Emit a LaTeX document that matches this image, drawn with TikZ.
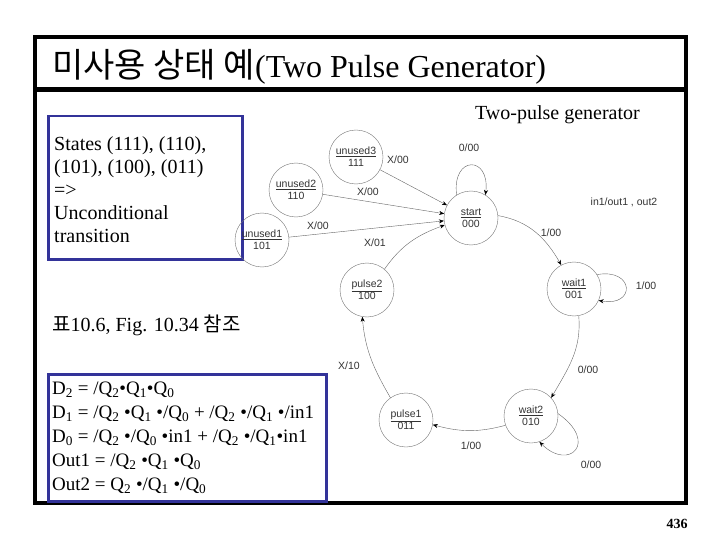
\documentclass[tikz,border=0pt]{standalone}
\usepackage{fontspec}
\setmainfont{Liberation Serif}
\setsansfont{Liberation Sans}
\newfontfamily\kr{Noto Sans CJK KR}
\usetikzlibrary{positioning,arrows.meta}
\definecolor{boxblue}{RGB}{51,51,153}

\begin{document}
\begin{tikzpicture}[x=1pt,y=-1pt,
  state/.style={circle,draw=black!55,minimum size=54pt,inner sep=0pt,align=center,
    font=\sffamily\fontsize{10.5}{12}\selectfont,text=black!80},
  tr/.style={draw=black!60,-{Stealth[length=5pt,width=4pt,color=black]}},
  lbl/.style={font=\sffamily\fontsize{10.5}{11}\selectfont,text=black!80},
  bluebox/.style={draw=boxblue,line width=2.5pt}]
\useasboundingbox (0,0) rectangle (720,540);

% frame and title
\draw[line width=4pt] (35,37) rectangle (686,503);
\draw[line width=5pt] (35,90) -- (686,90);
\node[anchor=base west,inner sep=0pt,font=\fontsize{32}{34}\selectfont] (title) at (52,78)
  {{\kr\fontsize{34}{36}\selectfont 미사용 상태 예}(Two Pulse Generator)};
\node[anchor=base east,inner sep=0pt,font=\fontsize{20}{22}\selectfont] (caption) at (640,120) {Two-pulse generator};

% notes
\node[bluebox,minimum width=194pt,minimum height=143pt,anchor=north west] (states) at (47,115) {};
\node[anchor=north west,inner sep=0pt,align=left,font=\fontsize{20}{23}\selectfont] (statestxt) at (54,136)
  {States (111), (110),\\(101), (100), (011)\\=>\\Unconditional\\transition};
\node[anchor=base west,inner sep=0pt,font=\fontsize{20}{22}\selectfont] (ref) at (52,331)
  {{\kr 표}10.6, Fig. 10.34 {\kr 참조}};
\node[bluebox,minimum width=278pt,minimum height=127pt,anchor=north west] (eqs) at (47,373) {};
\node[anchor=north west,inner sep=0pt,align=left,font=\fontsize{19}{24}\selectfont] (eqstxt) at (52,382)
  {D\textsubscript{2} = /Q\textsubscript{2}•Q\textsubscript{1}•Q\textsubscript{0}\\
   D\textsubscript{1} = /Q\textsubscript{2} •Q\textsubscript{1} •/Q\textsubscript{0} + /Q\textsubscript{2} •/Q\textsubscript{1} •/in1\\
   D\textsubscript{0} = /Q\textsubscript{2} •/Q\textsubscript{0} •in1 + /Q\textsubscript{2} •/Q\textsubscript{1}•in1\\
   Out1 = /Q\textsubscript{2} •Q\textsubscript{1} •Q\textsubscript{0}\\
   Out2 = Q\textsubscript{2} •/Q\textsubscript{1} •/Q\textsubscript{0}};
\node[anchor=base,inner sep=0pt,font=\bfseries\fontsize{14}{16}\selectfont] (page) at (677,528) {436};

% states
\node[state] (unused3) at (356,157) {\underline{unused3}\\111};
\node[state] (unused2) at (296,190) {\underline{unused2}\\110};
\node[state] (unused1) at (262,240) {\underline{unused1}\\101};
\node[state] (start) at (471,218) {\underline{start}\\000};
\node[state] (wait1) at (574,289) {\underline{wait1}\\001};
\node[state] (pulse2) at (367,290) {\underline{pulse2}\\100};
\node[state] (wait2) at (531,416) {\underline{wait2}\\010};
\node[state] (pulse1) at (406,420) {\underline{pulse1}\\011};

% transitions (y axis points down, so polar angles below are mirrored)
\draw[tr] (unused3) -- (start);
\draw[tr] (unused2) -- (start);
\draw[tr] (unused1) -- (start);
\draw[tr] (pulse2.50) to[out=55,in=200] (start.195);
\draw[tr] (start.122) .. controls +(-97:40) and +(-83:40) .. (start.58);
\draw[tr] (start.5) to[out=-10,in=120] (wait1.118);
\draw[tr] (wait1.32) .. controls +(-10:38) and +(10:38) .. (wait1.-25);
\draw[tr] (wait1.-80) to[out=-85,in=60] (wait2.42);
\draw[tr] (wait2.5) .. controls +(35:50) and +(45:42) .. (wait2.-72);
\draw[tr] (wait2.200) to[out=195,in=-15] (pulse1.-10);
\draw[tr] (pulse1.125) to[out=120,in=-85] (pulse2.-100);

% transition labels
\node[lbl] (l3) at (398,160) {X/00};
\node[lbl] (l2) at (368,192) {X/00};
\node[lbl] (l1) at (318,226) {X/00};
\node[lbl] (lp2) at (375,243) {X/01};
\node[lbl] (lstart) at (469,148) {0/00};
\node[lbl] (lsw) at (551,233) {1/00};
\node[lbl] (lw1) at (646,286) {1/00};
\node[lbl] (lw1w2) at (588,370) {0/00};
\node[lbl] (lw2) at (591,465) {0/00};
\node[lbl] (lw2p1) at (471,446) {1/00};
\node[lbl] (lp1) at (349,366) {X/10};
\node[lbl] (legend) at (624,202) {in1/out1 , out2};
\end{tikzpicture}
\end{document}
